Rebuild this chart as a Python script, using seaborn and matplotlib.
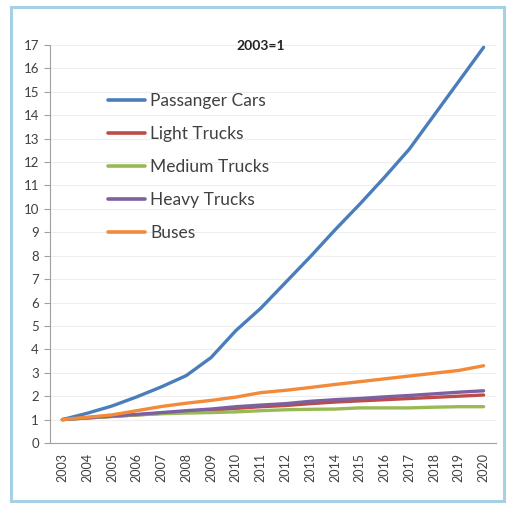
import numpy as np
import pandas as pd
import matplotlib
matplotlib.use("Agg")
import matplotlib.pyplot as plt
import matplotlib.patches as patches
import seaborn as sns

years = list(range(2003, 2021))
passenger_cars = [1.0, 1.27, 1.58, 1.97, 2.4, 2.88, 3.65, 4.8, 5.75, 6.85, 7.95, 9.1, 10.2, 11.35, 12.55, 14.0, 15.45, 16.9]
light_trucks = [1.0, 1.07, 1.14, 1.2, 1.27, 1.33, 1.4, 1.48, 1.55, 1.6, 1.68, 1.75, 1.8, 1.85, 1.9, 1.95, 2.0, 2.05]
medium_trucks = [1.0, 1.07, 1.13, 1.2, 1.25, 1.28, 1.3, 1.33, 1.38, 1.42, 1.44, 1.45, 1.5, 1.5, 1.5, 1.53, 1.55, 1.55]
heavy_trucks = [1.0, 1.08, 1.15, 1.22, 1.3, 1.38, 1.45, 1.55, 1.62, 1.68, 1.78, 1.85, 1.9, 1.97, 2.03, 2.1, 2.17, 2.23]
buses = [1.0, 1.1, 1.2, 1.38, 1.56, 1.7, 1.82, 1.96, 2.15, 2.25, 2.37, 2.5, 2.62, 2.74, 2.86, 2.98, 3.1, 3.3]

series_names = ["Passanger Cars", "Light Trucks", "Medium Trucks", "Heavy Trucks", "Buses"]
series_values = [passenger_cars, light_trucks, medium_trucks, heavy_trucks, buses]
colors = ["#4A7EBB", "#BE4B48", "#98B954", "#7D60A0", "#F28A3A"]
title_text = "2003=1"

rows = []
for name, vals in zip(series_names, series_values):
    for y, v in zip(years, vals):
        rows.append({"Year": y, "Value": v, "Series": name})
df = pd.DataFrame(rows)

sns.set_style("white")
plt.rcParams['font.family'] = ['Lato', 'DejaVu Sans']

fig = plt.figure(figsize=(5.11, 5.07), dpi=100)
ax = fig.add_axes([50/511, 1-443/507, 446/511, 398/507])

sns.lineplot(data=df, x="Year", y="Value", hue="Series", hue_order=series_names,
             palette=colors, linewidth=2.4, ax=ax, legend=True)

ax.set_xlim(2002.5, 2020.5)
ax.set_ylim(0, 17)
ax.set_yticks(range(0, 18))
ax.set_xticks(years)
ax.set_xticklabels([str(y) for y in years], rotation=90, fontsize=9, color="#404040")
ax.set_yticklabels([str(i) for i in range(0, 18)], fontsize=9.5, color="#404040")
ax.set_xticks(np.arange(2002.5, 2021, 1.0), minor=True)
ax.tick_params(axis="x", which="major", length=0, pad=7)
ax.tick_params(axis="x", which="minor", length=4, color="#A0A0A0", direction="out")
ax.tick_params(axis="y", length=4, color="#A0A0A0", direction="out", pad=4, left=True)
ax.set_xlabel("")
ax.set_ylabel("")
ax.grid(axis="y", color="#EEEEEE", linewidth=0.8)
ax.set_axisbelow(True)
for s in ["top", "right"]:
    ax.spines[s].set_visible(False)
for s in ["left", "bottom"]:
    ax.spines[s].set_color("#A0A0A0")
    ax.spines[s].set_linewidth(0.8)

ax.text(0.472, 0.997, title_text, transform=ax.transAxes, ha="center", va="center",
        fontsize=10, fontweight="bold", color="#222222")

leg = ax.legend(loc="upper left", bbox_to_anchor=(0.115, 0.897), frameon=False,
                fontsize=12.5, handlelength=2.1, handletextpad=0.3, labelspacing=0.98,
                borderaxespad=0)
for t in leg.get_texts():
    t.set_color("#404040")
for h in leg.legend_handles:
    h.set_linewidth(2.6)

rect = patches.Rectangle((11/511, 1-501/507), 493/511, 494/507, transform=fig.transFigure,
                         fill=False, edgecolor="#A8D0E4", linewidth=2.2)
fig.patches.append(rect)

fig.savefig("out.png", dpi=100)
